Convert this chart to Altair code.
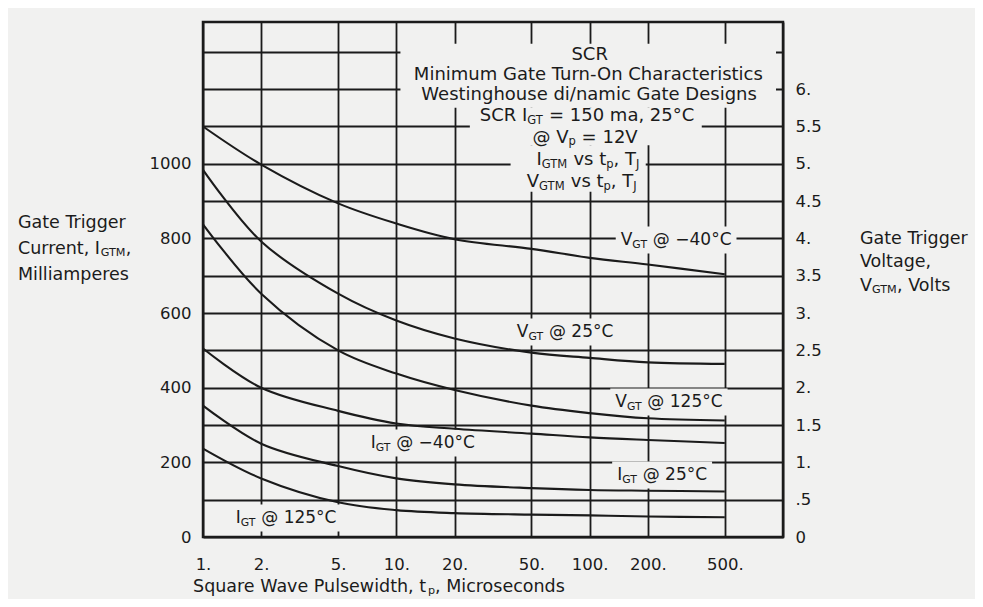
import altair as alt
import pandas as pd

# ---------------- data ----------------
pulse_us = [1, 2, 5, 10, 20, 50, 100, 200, 500]

# gate trigger voltage curves (volts, right axis)
vgt_m40 = [5.50, 4.99, 4.47, 4.20, 3.99, 3.86, 3.74, 3.65, 3.52]
vgt_25 = [4.92, 3.96, 3.26, 2.90, 2.66, 2.47, 2.40, 2.34, 2.32]
vgt_125 = [4.19, 3.26, 2.50, 2.19, 1.97, 1.76, 1.66, 1.59, 1.56]

# gate trigger current curves (mA, left axis)
igt_m40 = [505, 400, 338, 304, 290, 277, 267, 260, 252]
igt_25 = [352, 250, 190, 157, 141, 131, 126, 124, 122]
igt_125 = [237, 157, 93, 72, 64, 60, 58, 55, 53]

x_ticks = [1, 2, 5, 10, 20, 50, 100, 200, 500, 1000]
ma_grid = [0, 100, 200, 300, 400, 500, 600, 700, 800, 900, 1000, 1100, 1200, 1300]
volt_ticks = [0, 0.5, 1, 1.5, 2, 2.5, 3, 3.5, 4, 4.5, 5, 5.5, 6]

# ---------------- style ----------------
FONT = "DejaVu Sans"
INK = "#1b1b1b"
BG = "#f1f1f0"

XS = alt.Scale(type="log", domain=[1, 1000], nice=False)
YS = alt.Scale(domain=[0, 1380], nice=False)
VS = alt.Scale(domain=[0, 6.9], nice=False)

x_axis = alt.Axis(values=x_ticks,
                  labelExpr="datum.value >= 1000 ? '' : format(datum.value, 'd') + '.'",
                  grid=True, ticks=False, domain=False, labelFlush=False,
                  labelPadding=19, title=None)
y_axis = alt.Axis(values=ma_grid,
                  labelExpr="(datum.value % 200 == 0 && datum.value <= 1000) ? format(datum.value, 'd') : ''",
                  grid=True, ticks=False, domain=False, labelPadding=12, title=None)
v_axis = alt.Axis(orient="right", values=volt_ticks,
                  labelExpr="datum.value == 0 ? '0' : (datum.value == 0.5 ? '.5' : (datum.value % 1 == 0 ? format(datum.value, 'd') + '.' : format(datum.value, '.1f')))",
                  grid=False, ticks=False, domain=False, labelPadding=12, title=None)


def X():
    return alt.X("x:Q", scale=XS, axis=x_axis)


def Y():
    return alt.Y("y:Q", scale=YS, axis=y_axis)


# DejaVu Sans advance widths (em)
CW = {' ': .318, '.': .318, ',': .318, '-': .361, '/': .337, '=': .838, '@': 1.0,
      '°': .5, '−': .838, 'A': .684, 'C': .698, 'D': .770, 'G': .775, 'I': .295,
      'J': .295, 'M': .863, 'O': .787, 'P': .603, 'R': .695, 'S': .635, 'T': .611,
      'V': .684, 'W': .989, 'a': .613, 'b': .635, 'c': .55, 'd': .635, 'e': .615,
      'f': .352, 'g': .635, 'h': .634, 'i': .278, 'k': .579, 'l': .278, 'm': .974,
      'n': .634, 'o': .612, 'p': .635, 'q': .635, 'r': .411, 's': .521, 't': .392,
      'u': .634, 'v': .592, 'w': .818, 'y': .592}


def tw(s, size):
    return sum(CW.get(c, .636 if c.isdigit() else .6) for c in s) * size


def rich(x, y, segs, size, align="center", sub_scale=0.64, sub_drop=0.3):
    widths = [tw(t, size * (sub_scale if sub else 1)) for t, sub in segs]
    total = sum(widths)
    cum = -total / 2 if align == "center" else 0
    layers = []
    for (t, sub), w in zip(segs, widths):
        fs = size * sub_scale if sub else size
        lead = len(t) - len(t.lstrip(" "))
        off = cum + tw(" " * lead, fs)
        txt = t.strip(" ")
        if txt:
            layers.append(
                alt.Chart(pd.DataFrame({"x": [x], "y": [y], "t": [txt]}))
                .mark_text(align="left", baseline="middle", dx=off,
                           dy=(size * sub_drop if sub else 0), font=FONT,
                           fontSize=fs, color=INK)
                .encode(x=X(), y=Y(), text="t:N"))
        cum += w
    return layers, total


def halo(x, y, w, h):
    r = h / w
    path = f"M-1,{-r:.4f}H1V{r:.4f}H-1Z"
    return (alt.Chart(pd.DataFrame({"x": [x], "y": [y]}))
            .mark_point(shape=path, size=w * w, filled=True, color=BG, fill=BG,
                        opacity=1, strokeWidth=0)
            .encode(x=X(), y=Y()))


# ---------------- masks behind the title block ----------------
masks = pd.DataFrame({
    "x": [10.5, 24, 39],
    "x2": [920, 380, 195],
    "y": [1150, 1050, 925],
    "y2": [1322, 1150, 1050],
})
mask_layer = (alt.Chart(masks).mark_rect(color=BG, fill=BG, opacity=1)
              .encode(x=X(), x2="x2:Q", y=Y(), y2="y2:Q"))

# ---------------- curves ----------------
rows_i = []
for name, vals in [("IGT -40", igt_m40), ("IGT 25", igt_25), ("IGT 125", igt_125)]:
    for xv, yv in zip(pulse_us, vals):
        rows_i.append({"s": name, "x": xv, "y": yv})
igt_df = pd.DataFrame(rows_i)

rows_v = []
for name, vals in [("VGT -40", vgt_m40), ("VGT 25", vgt_25), ("VGT 125", vgt_125)]:
    for xv, yv in zip(pulse_us, vals):
        rows_v.append({"s": name, "x": xv, "v": yv})
vgt_df = pd.DataFrame(rows_v)

igt_lines = (alt.Chart(igt_df).mark_line(color=INK, strokeWidth=2.1, interpolate="catmull-rom")
             .encode(x=X(), y=Y(), detail="s:N"))
vgt_lines = (alt.Chart(vgt_df).mark_line(color=INK, strokeWidth=2.1, interpolate="catmull-rom")
             .encode(x=X(), y=alt.Y("v:Q", scale=VS, axis=v_axis), detail="s:N"))

# ---------------- text ----------------
N, S = False, True
halos = []
texts = []

curve_labels = [
    (280, 796, [("V", N), ("GT", S), (" @ −40°C", N)]),
    (74.6, 549, [("V", N), ("GT", S), (" @ 25°C", N)]),
    (257, 362, [("V", N), ("GT", S), (" @ 125°C", N)]),
    (13.7, 252, [("I", N), ("GT", S), (" @ −40°C", N)]),
    (237, 166, [("I", N), ("GT", S), (" @ 25°C", N)]),
    (2.69, 51, [("I", N), ("GT", S), (" @ 125°C", N)]),
]
for x, y, segs in curve_labels:
    lay, w = rich(x, y, segs, 17)
    halos.append(halo(x, y, w + 10, 27))
    texts += lay

title_lines = [
    (100, 1291, [("SCR", N)]),
    (100, 1238, [("Minimum Gate Turn-On Characteristics", N)]),
    (100, 1184, [("Westinghouse di/namic Gate Designs", N)]),
    (96.9, 1127, [("SCR I", N), ("GT", S), (" = 150 ma, 25°C", N)]),
    (94.7, 1070, [("@ V", N), ("p", S), (" = 12V", N)]),
    (98, 1010, [("I", N), ("GTM", S), (" vs t", N), ("p", S), (", T", N), ("J", S)]),
    (91, 951, [("V", N), ("GTM", S), (" vs t", N), ("p", S), (", T", N), ("J", S)]),
]
for x, y, segs in title_lines:
    lay, w = rich(x, y, segs, 18, sub_drop=0.26)
    texts += lay

axis_titles = [
    (0.1104, 841, [("Gate Trigger", N)]),
    (0.1104, 772, [("Current, I", N), ("GTM", S), (",", N)]),
    (0.1104, 702, [("Milliamperes", N)]),
    (2500, 798, [("Gate Trigger", N)]),
    (2500, 737, [("Voltage,", N)]),
    (2500, 673, [("V", N), ("GTM", S), (", Volts", N)]),
    (0.888, -134, [("Square Wave Pulsewidth, t", N), ("p", S), (", Microseconds", N)]),
]
for x, y, segs in axis_titles:
    lay, w = rich(x, y, segs, 17.5, align="left", sub_drop=0.22)
    texts += lay

left = alt.layer(mask_layer, *halos, igt_lines, *texts)
right = alt.layer(vgt_lines)

chart = (alt.layer(left, right)
         .resolve_scale(y="independent")
         .properties(width=580, height=515, background=BG,
                     padding={"left": 195, "top": 14, "right": 192, "bottom": 62},
                     autosize=alt.AutoSizeParams(type="none"))
         .configure_view(stroke=INK, strokeWidth=2.5, fill=BG)
         .configure_axis(labelFont=FONT, labelFontSize=16.5, labelColor=INK,
                         gridColor=INK, gridWidth=1.8, gridOpacity=1))

chart.save("out.html", embed_options={"renderer": "svg", "actions": False})
